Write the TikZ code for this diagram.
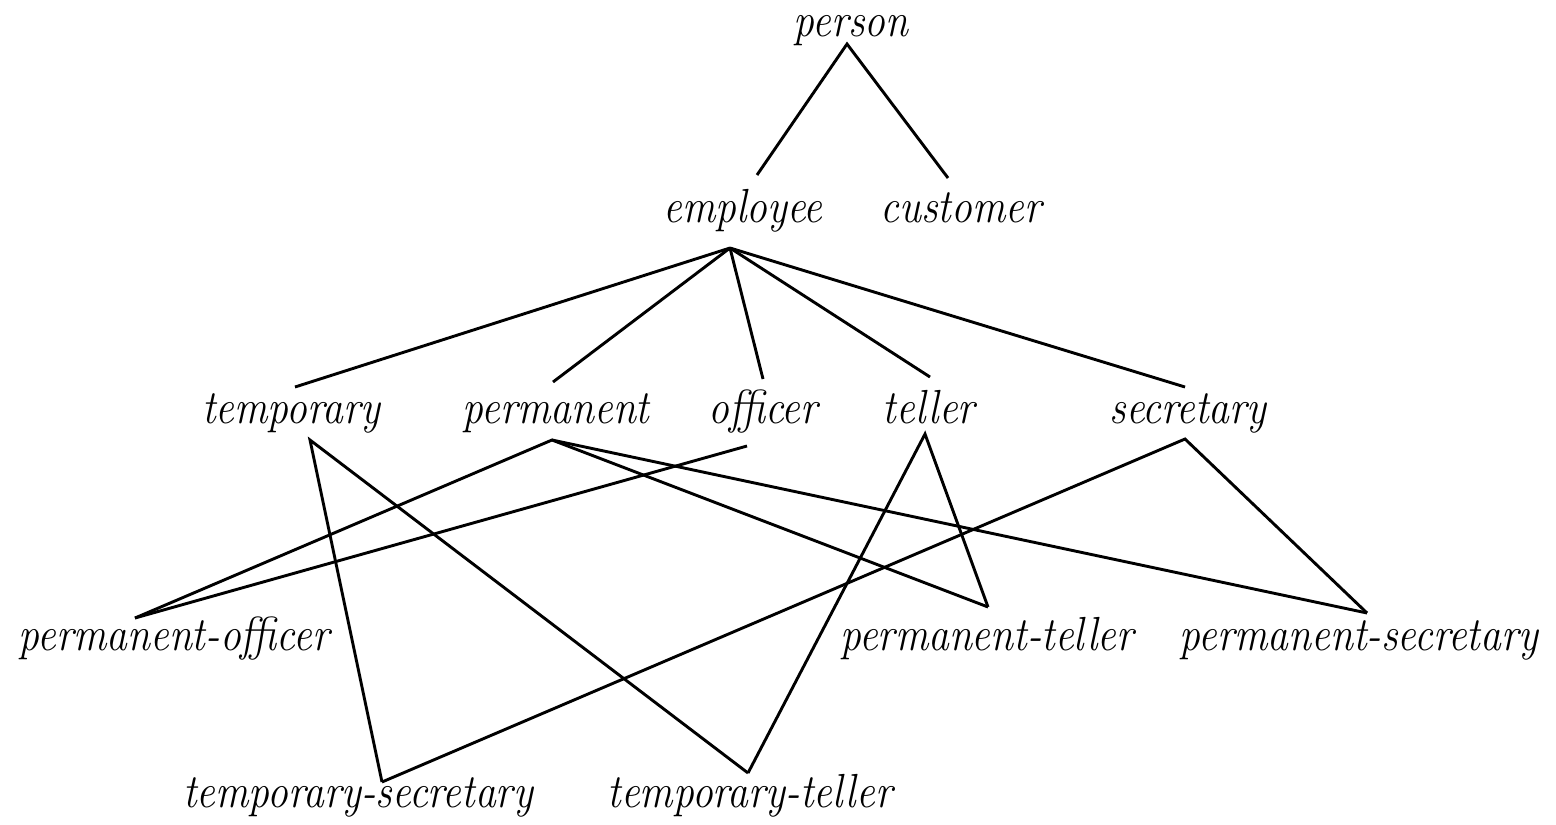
\documentclass[tikz,border=0pt]{standalone}
\usepackage{graphicx}
\tikzset{
  lbl/.style={anchor=base, inner sep=0pt, font=\fontsize{20.8}{24}\selectfont\itshape},
  edge/.style={line width=1.45pt, line join=miter, line cap=butt}
}
\newcommand{\lt}[1]{\scalebox{1}[1.15]{#1}}
\begin{document}
\begin{tikzpicture}[x=0.5pt,y=-0.5pt]
\useasboundingbox (0,0) rectangle (1556,824);
% labels
\node[lbl] (person) at (851,37) {\lt{person}};
\node[lbl] (employee) at (743,222) {\lt{employee}};
\node[lbl] (customer) at (961,222) {\lt{customer}};
\node[lbl] (temporary) at (291,423) {\lt{temporary}};
\node[lbl] (permanent) at (556,423) {\lt{permanent}};
\node[lbl] (officer) at (763,423) {\lt{officer}};
\node[lbl] (teller) at (929,423) {\lt{teller}};
\node[lbl] (secretary) at (1188,423) {\lt{secretary}};
\node[lbl] (pofficer) at (174,650) {\lt{permanent-officer}};
\node[lbl] (pteller) at (987,650) {\lt{permanent-teller}};
\node[lbl] (psecretary) at (1359,650) {\lt{permanent-secretary}};
\node[lbl] (tsecretary) at (358,807) {\lt{temporary-secretary}};
\node[lbl] (tteller) at (750,807) {\lt{temporary-teller}};
% attachment points
\coordinate (personB) at (847,44);
\coordinate (employeeT) at (757,175);
\coordinate (customerT) at (948,178);
\coordinate (employeeB) at (730,248);
\coordinate (temporaryT) at (295,387);
\coordinate (temporaryB) at (310,440);
\coordinate (permanentT) at (553,382);
\coordinate (permanentB) at (552,440);
\coordinate (officerT) at (763,379);
\coordinate (officerB) at (747,446);
\coordinate (tellerT) at (930,377);
\coordinate (tellerB) at (925,434);
\coordinate (secretaryT) at (1185,387);
\coordinate (secretaryB) at (1185,439);
\coordinate (pofficerT) at (135,618);
\coordinate (ptellerT) at (988,607);
\coordinate (psecretaryT) at (1367,613);
\coordinate (tsecretaryT) at (382,782);
\coordinate (ttellerT) at (748,773);
% connectors
\draw[edge] (employeeT) -- (personB) -- (customerT);
\draw[edge] (employeeB) -- (temporaryT);
\draw[edge] (employeeB) -- (permanentT);
\draw[edge] (employeeB) -- (officerT);
\draw[edge] (employeeB) -- (tellerT);
\draw[edge] (employeeB) -- (secretaryT);
\draw[edge] (tsecretaryT) -- (temporaryB) -- (ttellerT);
\draw[edge] (pofficerT) -- (permanentB) -- (ptellerT);
\draw[edge] (permanentB) -- (psecretaryT);
\draw[edge] (officerB) -- (pofficerT);
\draw[edge] (ttellerT) -- (tellerB) -- (ptellerT);
\draw[edge] (tsecretaryT) -- (secretaryB) -- (psecretaryT);
\end{tikzpicture}
\end{document}
